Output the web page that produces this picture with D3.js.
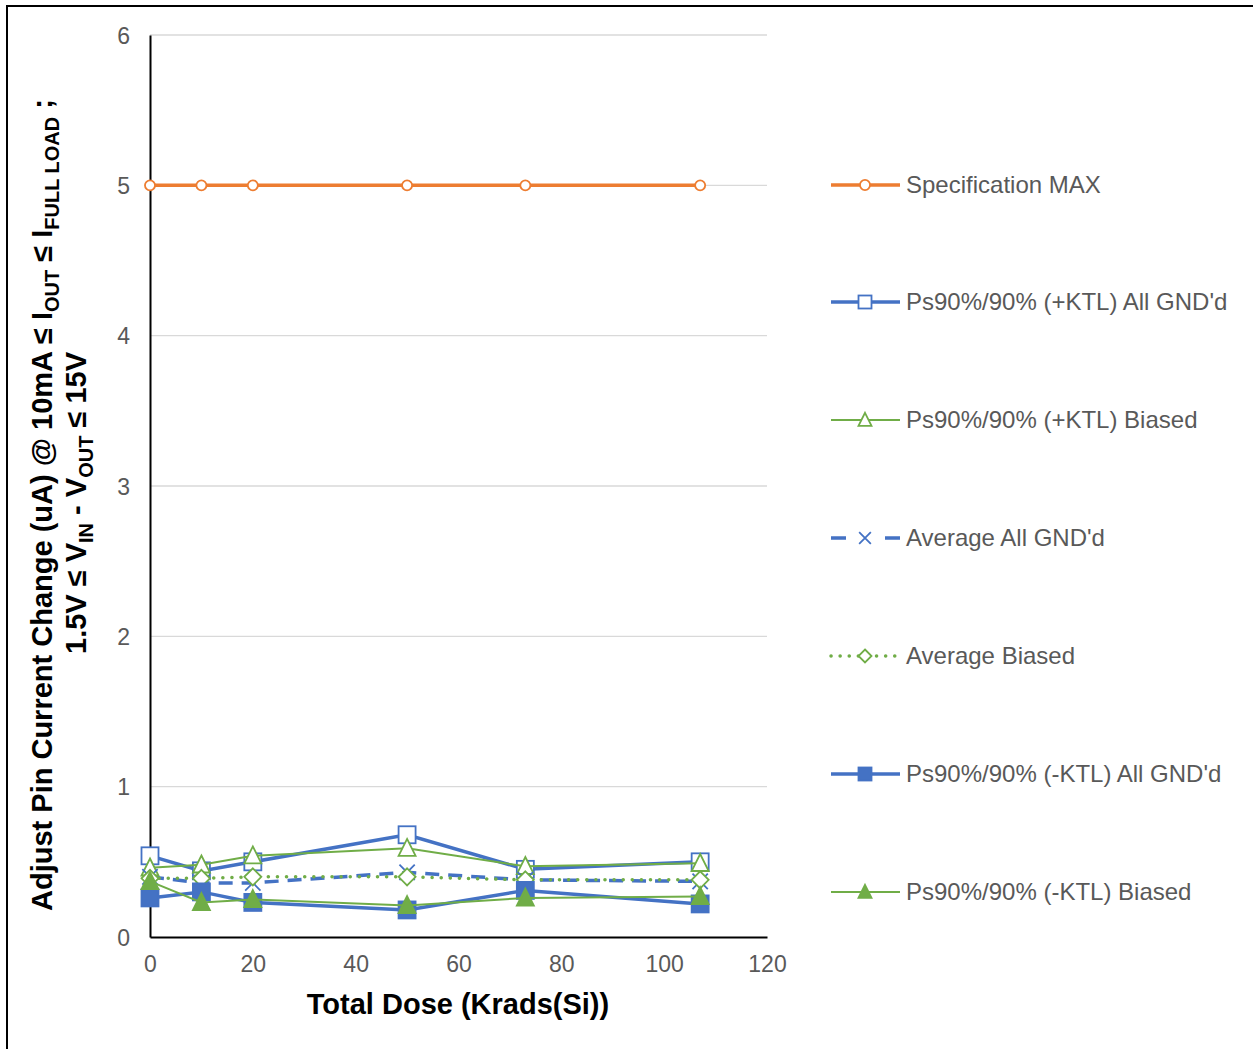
<!DOCTYPE html>
<html>
<head>
<meta charset="utf-8">
<title>Adjust Pin Current Change</title>
<script src="https://d3js.org/d3.v7.min.js"></script>
<style>
  body { margin: 0; background: #fff; }
  text { font-family: "Liberation Sans", Arial, sans-serif; }
</style>
</head>
<body>
<script>
// data
var dose = [0, 10, 20, 50, 73, 107];
var specMax = [5, 5, 5, 5, 5, 5];
var plusAllGnd = [0.54, 0.44, 0.50, 0.68, 0.45, 0.50];
var plusBiased = [0.46, 0.48, 0.54, 0.59, 0.47, 0.49];
var avgAllGnd = [0.40, 0.36, 0.36, 0.43, 0.38, 0.37];
var avgBiased = [0.39, 0.39, 0.40, 0.40, 0.38, 0.38];
var minusAllGnd = [0.26, 0.30, 0.23, 0.18, 0.31, 0.22];
var minusBiased = [0.37, 0.23, 0.25, 0.21, 0.26, 0.27];
var xTicks = [0, 20, 40, 60, 80, 100, 120];
var yTicks = [0, 1, 2, 3, 4, 5, 6];

var orange = "#ED7D31", blue = "#4472C4", green = "#70AD47";

var series = [
  {name: "Specification MAX", values: specMax, color: orange, width: 3.5, dash: null, marker: "circle", fill: false},
  {name: "Ps90%/90% (+KTL) All GND'd", values: plusAllGnd, color: blue, width: 3.5, dash: null, marker: "square", fill: false},
  {name: "Ps90%/90% (+KTL) Biased", values: plusBiased, color: green, width: 2, dash: null, marker: "triangle", fill: false},
  {name: "Average All GND'd", values: avgAllGnd, color: blue, width: 3.5, dash: "14,9", marker: "x", fill: false},
  {name: "Average Biased", values: avgBiased, color: green, width: 3.5, dash: "0.1,9", marker: "diamond", fill: false},
  {name: "Ps90%/90% (-KTL) All GND'd", values: minusAllGnd, color: blue, width: 3.5, dash: null, marker: "square", fill: true},
  {name: "Ps90%/90% (-KTL) Biased", values: minusBiased, color: green, width: 2, dash: null, marker: "triangle", fill: true}
];

var width = 1253, height = 1049;
var svg = d3.select("body").append("svg")
  .attr("width", width).attr("height", height);

// outer frame
svg.append("rect")
  .attr("x", 7).attr("y", 6)
  .attr("width", width + 10).attr("height", height + 10)
  .attr("fill", "none").attr("stroke", "#000").attr("stroke-width", 2);

var x = d3.scaleLinear().domain([0, 120]).range([150, 767]);
var y = d3.scaleLinear().domain([0, 6]).range([937, 35]);

// gridlines
svg.append("g").selectAll("line")
  .data(yTicks.slice(1))
  .enter().append("line")
  .attr("x1", x(0)).attr("x2", x(120))
  .attr("y1", function(d){ return y(d); })
  .attr("y2", function(d){ return y(d); })
  .attr("stroke", "#d9d9d9").attr("stroke-width", 1.3);

// axes
var xAxis = d3.axisBottom(x).tickValues(xTicks).tickSize(0).tickPadding(19)
  .tickFormat(d3.format("d"));
var yAxis = d3.axisLeft(y).tickValues(yTicks).tickSize(0).tickPadding(20)
  .tickFormat(d3.format("d"));

var gx = svg.append("g").attr("transform", "translate(0," + y(0) + ")").call(xAxis);
var gy = svg.append("g").attr("transform", "translate(" + x(0) + ",0)").call(yAxis);
[gx, gy].forEach(function(g){
  g.select(".domain").attr("stroke", "#000").attr("stroke-width", 2);
  g.selectAll("text").attr("fill", "#595959").style("font-size", "23px")
    .style("font-family", "'Liberation Sans', Arial, sans-serif");
});
gy.selectAll("text").attr("dy", "0.35em");

// axis titles
svg.append("text")
  .attr("x", 458).attr("y", 1014)
  .attr("text-anchor", "middle")
  .style("font-size", "29px").style("font-weight", "bold")
  .text("Total Dose (Krads(Si))");

var t1 = svg.append("text")
  .attr("transform", "translate(52,505) rotate(-90)")
  .attr("text-anchor", "middle")
  .style("font-size", "29px").style("font-weight", "bold");
t1.append("tspan").text("Adjust Pin Current Change (uA)  @ 10mA ≤ I");
t1.append("tspan").attr("dy", 7).style("font-size", "20px").text("OUT");
t1.append("tspan").attr("dy", -7).text(" ≤ I");
t1.append("tspan").attr("dy", 7).style("font-size", "20px").text("FULL LOAD");
t1.append("tspan").attr("dy", -7).text(" ;");

var t2 = svg.append("text")
  .attr("transform", "translate(86,503) rotate(-90)")
  .attr("text-anchor", "middle")
  .style("font-size", "29px").style("font-weight", "bold");
t2.append("tspan").text("1.5V ≤ V");
t2.append("tspan").attr("dy", 7).style("font-size", "20px").text("IN");
t2.append("tspan").attr("dy", -7).text(" - V");
t2.append("tspan").attr("dy", 7).style("font-size", "20px").text("OUT");
t2.append("tspan").attr("dy", -7).text(" ≤ 15V");

// marker drawing
function drawMarker(g, s, cx, cy, size) {
  var m;
  var fill = s.fill ? s.color : "#fff";
  if (s.marker === "circle") {
    m = g.append("circle").attr("cx", cx).attr("cy", cy).attr("r", size * 0.36);
  } else if (s.marker === "square") {
    m = g.append("rect").attr("x", cx - size / 2).attr("y", cy - size / 2)
      .attr("width", size).attr("height", size);
  } else if (s.marker === "triangle") {
    var h = size;
    m = g.append("path").attr("d", "M" + cx + "," + (cy - h * 0.55) +
      "L" + (cx + size / 2) + "," + (cy + h * 0.45) +
      "L" + (cx - size / 2) + "," + (cy + h * 0.45) + "Z");
  } else if (s.marker === "diamond") {
    var r = size * 0.5;
    m = g.append("path").attr("d", "M" + cx + "," + (cy - r) + "L" + (cx + r) + "," + cy +
      "L" + cx + "," + (cy + r) + "L" + (cx - r) + "," + cy + "Z");
  } else if (s.marker === "x") {
    var q = size * 0.45;
    m = g.append("path").attr("d", "M" + (cx - q) + "," + (cy - q) + "L" + (cx + q) + "," + (cy + q) +
      "M" + (cx + q) + "," + (cy - q) + "L" + (cx - q) + "," + (cy + q));
    fill = "none";
  }
  m.attr("fill", fill).attr("stroke", s.color).attr("stroke-width", 1.8);
  return m;
}

var line = d3.line()
  .x(function(d){ return x(d[0]); })
  .y(function(d){ return y(d[1]); });

series.forEach(function(s) {
  var pts = dose.map(function(d, i){ return [d, s.values[i]]; });
  var g = svg.append("g");
  g.append("path")
    .attr("d", line(pts))
    .attr("fill", "none")
    .attr("stroke", s.color)
    .attr("stroke-width", s.width)
    .attr("stroke-linecap", s.marker === "diamond" ? "round" : "butt")
    .attr("stroke-dasharray", s.dash);
  pts.forEach(function(p){
    drawMarker(g, s, x(p[0]), y(p[1]), s.marker === "circle" ? 14 : 17);
  });
});

// legend
var legendY = [185, 302, 420, 538, 656, 774, 892];
series.forEach(function(s, i) {
  var g = svg.append("g").attr("transform", "translate(0," + legendY[i] + ")");
  var ld = s.dash;
  if (s.marker === "x") ld = "15,39,15";
  g.append("line")
    .attr("x1", 831).attr("x2", 900).attr("y1", 0).attr("y2", 0)
    .attr("stroke", s.color).attr("stroke-width", s.width)
    .attr("stroke-linecap", s.marker === "diamond" ? "round" : "butt")
    .attr("stroke-dasharray", ld);
  drawMarker(g, s, 865, 0, s.marker === "circle" ? 14 : 13);
  g.append("text")
    .attr("x", 906).attr("y", 0).attr("dy", "0.35em")
    .attr("fill", "#595959")
    .style("font-size", "24px")
    .text(s.name);
});
</script>
</body>
</html>
